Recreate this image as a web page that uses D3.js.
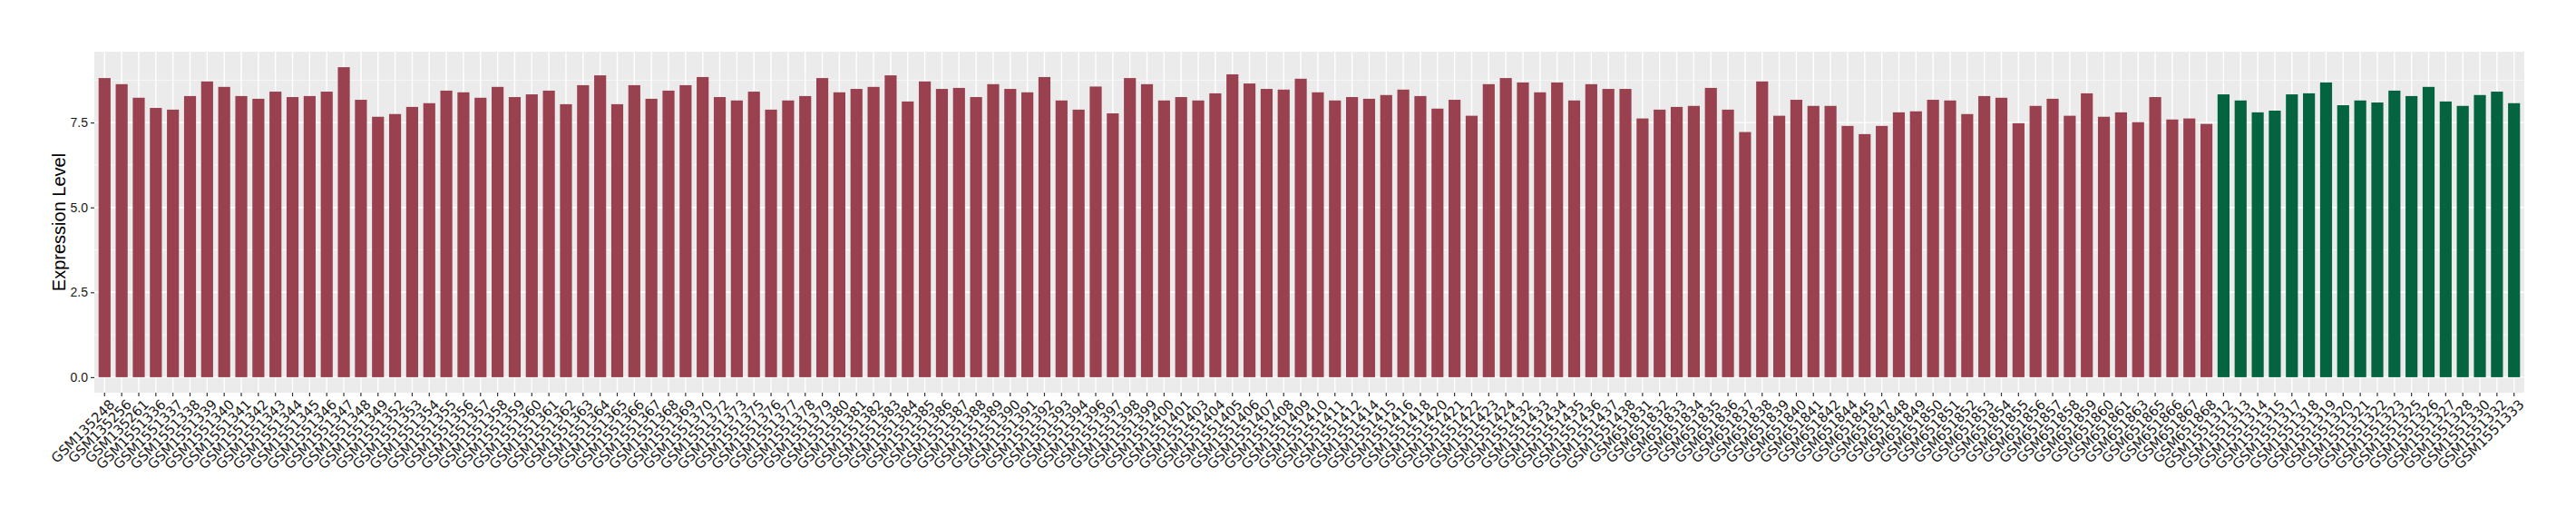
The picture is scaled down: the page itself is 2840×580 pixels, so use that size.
<!DOCTYPE html>
<html>
<head>
<meta charset="utf-8">
<script src="https://cdn.jsdelivr.net/npm/d3@7"></script>
<style>
  body { margin: 0; background: #fff; }
  text { font-family: "Liberation Sans", Arial, sans-serif; }
</style>
</head>
<body>
<svg id="chart" width="2840" height="580"></svg>
<script>
// samples of the first group (red bars)
const samplesA = [
    "GSM135248", "GSM135256", "GSM135261", "GSM1551336", "GSM1551337", "GSM1551338", "GSM1551339", "GSM1551340",
    "GSM1551341", "GSM1551342", "GSM1551343", "GSM1551344", "GSM1551345", "GSM1551346", "GSM1551347", "GSM1551348",
    "GSM1551349", "GSM1551352", "GSM1551353", "GSM1551354", "GSM1551355", "GSM1551356", "GSM1551357", "GSM1551358",
    "GSM1551359", "GSM1551360", "GSM1551361", "GSM1551362", "GSM1551363", "GSM1551364", "GSM1551365", "GSM1551366",
    "GSM1551367", "GSM1551368", "GSM1551369", "GSM1551370", "GSM1551372", "GSM1551373", "GSM1551375", "GSM1551376",
    "GSM1551377", "GSM1551378", "GSM1551379", "GSM1551380", "GSM1551381", "GSM1551382", "GSM1551383", "GSM1551384",
    "GSM1551385", "GSM1551386", "GSM1551387", "GSM1551388", "GSM1551389", "GSM1551390", "GSM1551391", "GSM1551392",
    "GSM1551393", "GSM1551394", "GSM1551396", "GSM1551397", "GSM1551398", "GSM1551399", "GSM1551400", "GSM1551401",
    "GSM1551403", "GSM1551404", "GSM1551405", "GSM1551406", "GSM1551407", "GSM1551408", "GSM1551409", "GSM1551410",
    "GSM1551411", "GSM1551412", "GSM1551414", "GSM1551415", "GSM1551416", "GSM1551418", "GSM1551420", "GSM1551421",
    "GSM1551422", "GSM1551423", "GSM1551424", "GSM1551432", "GSM1551433", "GSM1551434", "GSM1551435", "GSM1551436",
    "GSM1551437", "GSM1551438", "GSM651831", "GSM651832", "GSM651833", "GSM651834", "GSM651835", "GSM651836",
    "GSM651837", "GSM651838", "GSM651839", "GSM651840", "GSM651841", "GSM651842", "GSM651844", "GSM651845",
    "GSM651847", "GSM651848", "GSM651849", "GSM651850", "GSM651851", "GSM651852", "GSM651853", "GSM651854",
    "GSM651855", "GSM651856", "GSM651857", "GSM651858", "GSM651859", "GSM651860", "GSM651861", "GSM651863",
    "GSM651865", "GSM651866", "GSM651867", "GSM651868"
];
const valuesA = [
    8.81, 8.63, 8.23, 7.93, 7.88, 8.28, 8.71, 8.55, 8.28, 8.20,
    8.41, 8.25, 8.28, 8.41, 9.13, 8.17, 7.67, 7.75, 7.96, 8.07,
    8.44, 8.39, 8.23, 8.55, 8.25, 8.33, 8.44, 8.04, 8.60, 8.89,
    8.04, 8.60, 8.20, 8.44, 8.60, 8.84, 8.25, 8.15, 8.41, 7.88,
    8.15, 8.28, 8.81, 8.39, 8.49, 8.55, 8.89, 8.12, 8.71, 8.49,
    8.52, 8.25, 8.63, 8.49, 8.39, 8.84, 8.15, 7.88, 8.56, 7.77,
    8.81, 8.63, 8.15, 8.25, 8.15, 8.36, 8.92, 8.65, 8.49, 8.47,
    8.79, 8.39, 8.15, 8.25, 8.20, 8.31, 8.47, 8.28, 7.91, 8.17,
    7.70, 8.63, 8.81, 8.68, 8.39, 8.68, 8.15, 8.63, 8.49, 8.49,
    7.62, 7.88, 7.96, 7.99, 8.52, 7.88, 7.22, 8.71, 7.70, 8.17,
    7.99, 7.99, 7.40, 7.16, 7.40, 7.80, 7.83, 8.17, 8.15, 7.75,
    8.28, 8.23, 7.48, 7.99, 8.20, 7.70, 8.36, 7.67, 7.80, 7.51,
    8.25, 7.59, 7.62, 7.46
];

// samples of the second group (green bars)
const samplesB = [
    "GSM1551312", "GSM1551313", "GSM1551314", "GSM1551315", "GSM1551317", "GSM1551318", "GSM1551319", "GSM1551320",
    "GSM1551321", "GSM1551322", "GSM1551323", "GSM1551325", "GSM1551326", "GSM1551327", "GSM1551328", "GSM1551330",
    "GSM1551332", "GSM1551333"
];
const valuesB = [
    8.33, 8.15, 7.80, 7.85, 8.33, 8.36, 8.68, 8.01, 8.15, 8.09,
    8.44, 8.28, 8.55, 8.12, 7.99, 8.31, 8.41, 8.07
];

const yMajor = [0, 2.5, 5, 7.5];
const yMinor = [1.25, 3.75, 6.25, 8.75];

const colors = {A: "#9a4150", B: "#03643f"};

const data = samplesA.map(function (s, i) {
    return {sample: s, value: valuesA[i], group: "A"};
}).concat(samplesB.map(function (s, i) {
    return {sample: s, value: valuesB[i], group: "B"};
}));

const svg = d3.select("#chart");
const pLeft = 104, pRight = 2783, pTop = 57, pBottom = 433;

const x = d3.scaleBand()
    .domain(data.map(function (d) { return d.sample; }))
    .range([pLeft, pRight])
    .paddingInner(0.3)
    .paddingOuter(0.25);

const maxV = d3.max(data, function (d) { return d.value; });
const y = d3.scaleLinear()
    .domain([-0.05 * maxV, 1.05 * maxV])
    .range([pBottom, pTop]);

// panel
svg.append("rect")
    .attr("x", pLeft).attr("y", pTop)
    .attr("width", pRight - pLeft).attr("height", pBottom - pTop)
    .attr("fill", "#ebebeb");

svg.append("g").selectAll("line")
    .data(yMinor)
    .enter().append("line")
    .attr("x1", pLeft).attr("x2", pRight)
    .attr("y1", function (d) { return y(d); })
    .attr("y2", function (d) { return y(d); })
    .attr("stroke", "#fff").attr("stroke-width", 0.7);

svg.append("g").selectAll("line")
    .data(yMajor)
    .enter().append("line")
    .attr("x1", pLeft).attr("x2", pRight)
    .attr("y1", function (d) { return y(d); })
    .attr("y2", function (d) { return y(d); })
    .attr("stroke", "#fff").attr("stroke-width", 1.4);

svg.append("g").selectAll("line")
    .data(data)
    .enter().append("line")
    .attr("x1", function (d) { return x(d.sample) + x.bandwidth() / 2; })
    .attr("x2", function (d) { return x(d.sample) + x.bandwidth() / 2; })
    .attr("y1", pTop).attr("y2", pBottom)
    .attr("stroke", "#fff").attr("stroke-width", 1.4);

// bars
svg.append("g").selectAll("rect")
    .data(data)
    .enter().append("rect")
    .attr("x", function (d) { return x(d.sample); })
    .attr("width", x.bandwidth())
    .attr("y", function (d) { return y(d.value); })
    .attr("height", function (d) { return y(0) - y(d.value); })
    .attr("fill", function (d) { return colors[d.group]; });

// y axis
const yAxis = svg.append("g")
    .attr("transform", "translate(" + pLeft + ",0)")
    .call(d3.axisLeft(y).tickValues(yMajor).tickFormat(d3.format(".1f")).tickSize(4).tickPadding(3));
yAxis.select(".domain").remove();
yAxis.selectAll("line").attr("stroke", "#333").attr("stroke-width", 1.2);
yAxis.selectAll("text").attr("fill", "#1a1a1a").style("font-size", "14px");

// x axis, labels turned 45 degrees
const xAxis = svg.append("g")
    .attr("transform", "translate(0," + pBottom + ")")
    .call(d3.axisBottom(x).tickSize(4).tickPadding(2));
xAxis.select(".domain").remove();
xAxis.selectAll("line").attr("stroke", "#333").attr("stroke-width", 1.2);
xAxis.selectAll("text")
    .attr("fill", "#1a1a1a")
    .style("font-family", "'DejaVu Sans', sans-serif")
    .style("font-size", "15px")
    .attr("text-anchor", "end")
    .attr("dy", "0.75em")
    .attr("y", 6)
    .attr("x", 4)
    .attr("transform", "rotate(-45,4,6)");

// axis title
svg.append("text")
    .attr("transform", "translate(" + 72 + "," + (pTop + pBottom) / 2 + ") rotate(-90)")
    .attr("text-anchor", "middle")
    .attr("fill", "#000")
    .style("font-size", "20px")
    .text("Expression Level");
</script>
</body>
</html>
